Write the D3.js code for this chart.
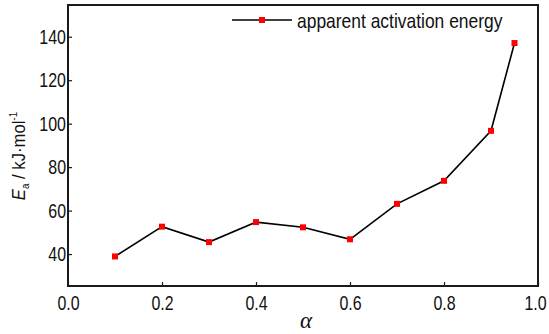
<!DOCTYPE html>
<html>
<head>
<meta charset="utf-8">
<script src="https://cdn.jsdelivr.net/npm/d3@7"></script>
<style>
  html, body { margin: 0; padding: 0; background: #fff; }
  svg text { font-family: "Liberation Sans", Arial, sans-serif; fill: #111; }
</style>
</head>
<body>
<svg id="chart" width="549" height="334"></svg>
<script>
// Conversion degree and the apparent activation energy at each step (kJ/mol)
const alpha = [0.1, 0.2, 0.3, 0.4, 0.5, 0.6, 0.7, 0.8, 0.9, 0.95];
const energy = [38.9, 52.6, 45.5, 54.7, 52.3, 46.8, 63.1, 73.7, 96.7, 137.1];
const xTicks = [0.0, 0.2, 0.4, 0.6, 0.8, 1.0];
const yTicks = [40, 60, 80, 100, 120, 140];
const seriesName = "apparent activation energy";

const svg = d3.select("#chart");
const margin = { left: 68, right: 11, top: 5, bottom: 48 };
const W = 549, H = 334;
const x = d3.scaleLinear().domain([0, 1]).range([margin.left, W - margin.right]);
const y = d3.scaleLinear().domain([25.3, 154.6]).range([H - margin.bottom, margin.top]);

const frameColor = "#1a1a1a";

// Condensed look: squeeze glyphs horizontally to a fraction of their natural width
function condense(sel, k) {
  sel.each(function () {
    const w = this.getComputedTextLength();
    d3.select(this).attr("textLength", w * k).attr("lengthAdjust", "spacingAndGlyphs");
  });
}

// Axes with inward ticks
const xAxis = d3.axisBottom(x).tickValues(xTicks).tickFormat(d3.format(".1f"))
  .tickSizeInner(-4).tickSizeOuter(0).tickPadding(8);
const yAxis = d3.axisLeft(y).tickValues(yTicks).tickFormat(d3.format("d"))
  .tickSizeInner(-4).tickSizeOuter(0).tickPadding(2);

const gx = svg.append("g").attr("transform", `translate(0,${y.range()[0]})`).call(xAxis);
const gy = svg.append("g").attr("transform", `translate(${margin.left},0)`).call(yAxis);
[gx, gy].forEach(g => {
  g.select(".domain").remove();
  g.selectAll(".tick line").attr("stroke", frameColor).attr("stroke-width", 1.2);
  g.selectAll(".tick text").style("font-size", "21px").attr("fill", "#111");
  condense(g.selectAll(".tick text"), 0.76);
});
gx.selectAll(".tick text").attr("dy", "0.74em");
gx.selectAll(".tick").filter(d => d === 1).select("text").attr("x", -3);

// Plot frame
svg.append("rect")
  .attr("x", x.range()[0]).attr("y", y.range()[1])
  .attr("width", x.range()[1] - x.range()[0])
  .attr("height", y.range()[0] - y.range()[1])
  .attr("fill", "none").attr("stroke", frameColor).attr("stroke-width", 2);

// Series line and markers
const line = d3.line().x((d, i) => x(alpha[i])).y(d => y(d));
svg.append("path").datum(energy)
  .attr("d", line).attr("fill", "none")
  .attr("stroke", "#000").attr("stroke-width", 1.6);

const ms = 6;
svg.append("g").selectAll("rect").data(energy).join("rect")
  .attr("x", (d, i) => x(alpha[i]) - ms / 2)
  .attr("y", d => y(d) - ms / 2)
  .attr("width", ms).attr("height", ms)
  .attr("fill", "#ff0000");

// Legend
const lg = svg.append("g");
lg.append("line").attr("x1", 232).attr("x2", 292).attr("y1", 20).attr("y2", 20)
  .attr("stroke", "#000").attr("stroke-width", 1.6);
lg.append("rect").attr("x", 262 - ms / 2).attr("y", 20 - ms / 2)
  .attr("width", ms).attr("height", ms).attr("fill", "#ff0000");
const legText = lg.append("text").attr("x", 297).attr("y", 28)
  .style("font-size", "21px").text(seriesName);
condense(legText, 0.83);

// Y axis title: E_a / kJ·mol^-1
const yt = svg.append("text")
  .attr("transform", "translate(25,156) rotate(-90)")
  .attr("text-anchor", "middle")
  .style("font-size", "19px");
yt.append("tspan").style("font-style", "italic").text("E");
yt.append("tspan").attr("dy", 4).style("font-size", "11px").text("a");
yt.append("tspan").attr("dy", -4).text(" / kJ·mol");
yt.append("tspan").attr("dy", -8).style("font-size", "11px").text("-1");
condense(yt, 0.88);

// X axis title
svg.append("text").attr("x", 306).attr("y", 328)
  .attr("text-anchor", "middle")
  .style("font-family", "'Liberation Serif', 'Times New Roman', serif")
  .style("font-style", "italic").style("font-size", "23px")
  .text("α");
</script>
</body>
</html>
